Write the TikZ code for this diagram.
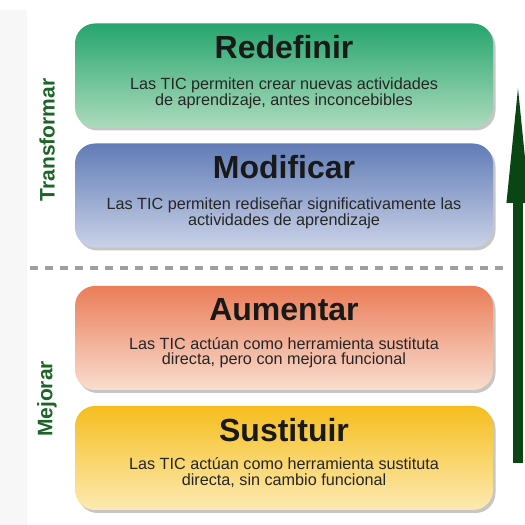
\documentclass[tikz,border=0pt]{standalone}
\usepackage{fontspec}
\setmainfont{Liberation Sans}
\usetikzlibrary{positioning,shadows,arrows.meta}
\definecolor{redefTop}{RGB}{38,165,110}
\definecolor{redefBot}{RGB}{172,219,188}
\definecolor{modTop}{RGB}{96,124,182}
\definecolor{modBot}{RGB}{202,210,231}
\definecolor{aumTop}{RGB}{234,125,88}
\definecolor{aumBot}{RGB}{249,222,208}
\definecolor{susTop}{RGB}{245,190,30}
\definecolor{susBot}{RGB}{253,234,178}
\definecolor{sideGreen}{RGB}{28,100,40}
\definecolor{arrowGreen}{RGB}{10,70,20}
\begin{document}
\begin{tikzpicture}[x=1pt,y=1pt,
  level/.style={rectangle, rounded corners=20pt, minimum width=418pt, minimum height=104pt,
    drop shadow={shadow xshift=2.5pt, shadow yshift=-3pt, opacity=0.45}},
  leveltitle/.style={font=\fontsize{32}{32}\selectfont\bfseries, text=black!90, inner sep=0pt},
  leveldesc/.style={font=\fontsize{16.2}{15.8}\selectfont, text=black!85, align=center, inner sep=0pt},
  sidelabel/.style={font=\fontsize{21}{21}\selectfont\bfseries, text=sideGreen, rotate=90, inner sep=0pt}]
  \useasboundingbox (0,0) rectangle (525,525);
  \fill[gray!6] (0,0) rectangle (27,515);

  % the four levels
  \node[level, top color=redefTop, bottom color=redefBot] (redefinir) at (284,449.5) {};
  \node[level, top color=modTop, bottom color=modBot] (modificar) at (284,329.5) {};
  \node[level, top color=aumTop, bottom color=aumBot] (aumentar) at (284,187) {};
  \node[level, top color=susTop, bottom color=susBot] (sustituir) at (284,67) {};

  \node[leveltitle] (redefinirT) at ([yshift=-24pt]redefinir.north) {Redefinir};
  \node[leveldesc] (redefinirD) at ([yshift=-70pt]redefinir.north)
    {Las TIC permiten crear nuevas actividades\\de aprendizaje, antes inconcebibles};
  \node[leveltitle] (modificarT) at ([yshift=-24pt]modificar.north) {Modificar};
  \node[leveldesc] (modificarD) at ([yshift=-70pt]modificar.north)
    {Las TIC permiten rediseñar significativamente las\\actividades de aprendizaje};
  \node[leveltitle] (aumentarT) at ([yshift=-24pt]aumentar.north) {Aumentar};
  \node[leveldesc] (aumentarD) at ([yshift=-67pt]aumentar.north)
    {Las TIC actúan como herramienta sustituta\\directa, pero con mejora funcional};
  \node[leveltitle] (sustituirT) at ([yshift=-24pt]sustituir.north) {Sustituir};
  \node[leveldesc] (sustituirD) at ([yshift=-67pt]sustituir.north)
    {Las TIC actúan como herramienta sustituta\\directa, sin cambio funcional};

  % divider and side labels
  \draw[gray!75, line width=3.5pt, dash pattern=on 8pt off 7pt] (30,257) -- (505,257);
  \node[sidelabel] (transformar) at (47,385) {Transformar};
  \node[sidelabel] (mejorar) at (47,126) {Mejorar};

  % arrow
  \coordinate (arrowfoot) at (518,62);
  \coordinate (arrowtip) at (518,452);
  \draw[line width=10pt, arrowGreen, -{Triangle[length=130pt,width=20pt]}] (arrowfoot) -- (arrowtip);
\end{tikzpicture}
\end{document}
